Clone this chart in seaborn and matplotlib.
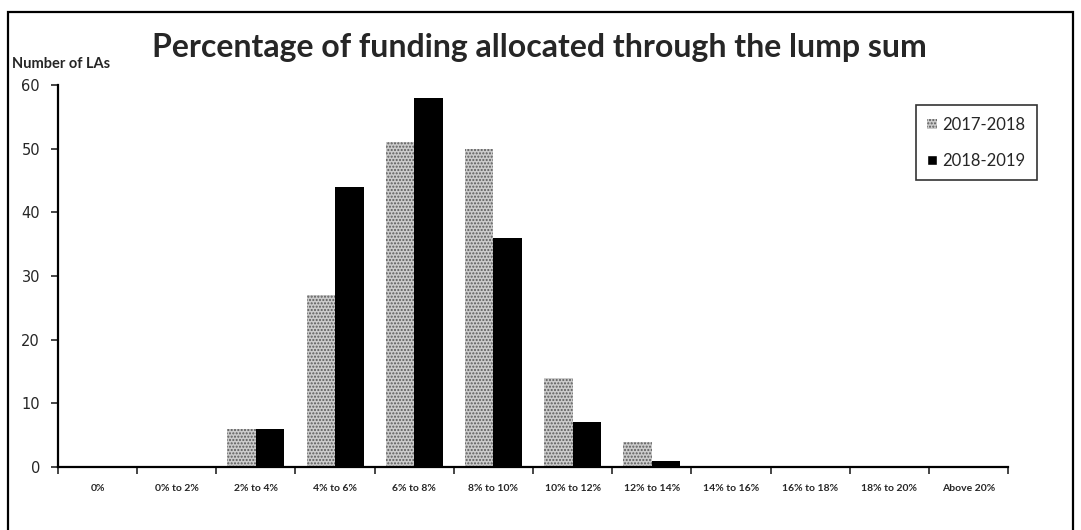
import matplotlib.pyplot as plt
import matplotlib.patches as mpatches
import pandas as pd
import seaborn as sns

sns.set_style("white")
plt.rcParams["font.family"] = ["Lato", "DejaVu Sans"]

categories = ["0%", "0% to 2%", "2% to 4%", "4% to 6%", "6% to 8%", "8% to 10%",
              "10% to 12%", "12% to 14%", "14% to 16%", "16% to 18%", "18% to 20%",
              "Above 20%"]
funding_2017 = [0, 0, 6, 27, 51, 50, 14, 4, 0, 0, 0, 0]
funding_2018 = [0, 0, 6, 44, 58, 36, 7, 1, 0, 0, 0, 0]
years = ["2017-2018", "2018-2019"]

df = pd.DataFrame({
    "band": categories * 2,
    "count": funding_2017 + funding_2018,
    "year": [years[0]] * len(categories) + [years[1]] * len(categories),
})

fig = plt.figure(figsize=(10.81, 5.30), dpi=100)
ax = fig.add_axes([58 / 1081, 1 - 467 / 530, 950 / 1081, 382 / 530])

sns.barplot(data=df, x="band", y="count", hue="year", order=categories,
            hue_order=years, palette=["#cbcbcb", "#000000"], width=0.72,
            saturation=1, ax=ax, legend=False)

n = len(categories)
for i, bar in enumerate(ax.patches[:2 * n]):
    if i < n:
        bar.set_hatch(".....")
        bar.set_edgecolor("#5a5a5a")
        bar.set_linewidth(0)
    else:
        bar.set_edgecolor("#000000")
        bar.set_linewidth(0)

ax.set_ylim(0, 60)
ax.set_xlim(-0.5, n - 0.5)
ax.set_yticks(range(0, 61, 10))
ax.set_xlabel("")
ax.set_ylabel("")

for side in ["top", "right"]:
    ax.spines[side].set_visible(False)
for side in ["left", "bottom"]:
    ax.spines[side].set_linewidth(1.6)
    ax.spines[side].set_color("black")

ax.tick_params(axis="y", which="major", direction="out", length=5, width=1.2,
               left=True, labelsize=10.5, pad=8)
for lbl in ax.get_yticklabels():
    lbl.set_family("DejaVu Sans")

ax.set_xticks([i - 0.5 for i in range(n + 1)], minor=False)
ax.set_xticklabels([])
ax.set_xticks(range(n), minor=True)
ax.set_xticklabels(categories, minor=True, fontsize=7.5, fontweight="bold")
ax.tick_params(axis="x", which="major", direction="out", length=5, width=1.2,
               bottom=True)
ax.tick_params(axis="x", which="minor", length=0, pad=12)

fig.text(539 / 1081, 1 - 48 / 530, "Percentage of funding allocated through the lump sum",
         ha="center", va="center", fontsize=23, fontweight="bold")
fig.text(12 / 1081, 1 - 64 / 530, "Number of LAs", ha="left", va="center",
         fontsize=10.5, fontweight="bold")

handles = [
    mpatches.Patch(facecolor="#cbcbcb", edgecolor="#5a5a5a", hatch=".....",
                   linewidth=0, label=years[0]),
    mpatches.Patch(facecolor="#000000", label=years[1]),
]
leg = ax.legend(handles=handles, loc="upper right",
                bbox_to_anchor=(1037 / 1081, 1 - 105 / 530),
                bbox_transform=fig.transFigure, fontsize=12, frameon=True,
                fancybox=False, handlelength=0.6, handleheight=0.6,
                handletextpad=0.3, labelspacing=1.2, borderpad=0.7,
                borderaxespad=0)
leg.get_frame().set_edgecolor("black")
leg.get_frame().set_linewidth(1.2)

border = mpatches.Rectangle((8 / 1081, -0.02), 1065 / 1081, 1.02 - 12 / 530,
                            transform=fig.transFigure, fill=False,
                            edgecolor="black", linewidth=1.6)
fig.patches.append(border)

fig.savefig("out.png", dpi=100)
